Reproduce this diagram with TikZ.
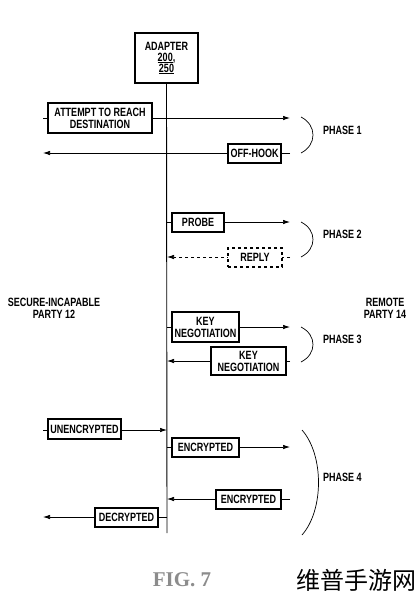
\documentclass[tikz,border=0pt]{standalone}
\usepackage{fontspec}
\newfontfamily\labfont[FakeStretch=0.75]{Liberation Sans}
\newfontfamily\figfont{Liberation Serif}
\newfontfamily\cjkfont{Noto Sans CJK SC}
\usetikzlibrary{arrows.meta,backgrounds}
\begin{document}
\begin{tikzpicture}[x=1pt,y=-1pt,
  txt/.style={font=\labfont\bfseries\fontsize{12}{12}\selectfont,align=center,inner sep=0pt},
  msgbox/.style 2 args={txt,draw,line width=1.4pt,fill=white,minimum width=#1pt,minimum height=#2pt},
  msg/.style={line width=0.7pt,-{Latex[length=7pt,width=4.5pt]}},
  brace/.style={line width=0.7pt}]
\useasboundingbox (0,0) rectangle (418,600);

% adapter and life line
\node[msgbox={63}{50}] (adapter) at (166.5,58) {ADAPTER\\[-1pt]\underline{200},\\[-1pt]\underline{250}};
\coordinate (bottom) at (167,533);
\draw[line width=0.9pt] (adapter.south) -- (bottom);

% boxes
\node[msgbox={104}{30}] (attempt) at (100,118) {ATTEMPT TO REACH\\DESTINATION};
\node[msgbox={53}{19}] (offhook) at (254.5,153.5) {OFF-HOOK};
\node[msgbox={52}{19}] (probe) at (198,222.5) {PROBE};
\node[msgbox={54}{19},dashed] (reply) at (255,257.5) {REPLY};
\node[msgbox={67}{30}] (key1) at (205.5,327) {KEY\\NEGOTIATION};
\node[msgbox={75}{28}] (key2) at (248.5,361) {KEY\\NEGOTIATION};
\node[msgbox={73}{20}] (unenc) at (84.5,429) {UNENCRYPTED};
\node[msgbox={67}{19}] (enc1) at (205.5,447.5) {ENCRYPTED};
\node[msgbox={65}{19}] (enc2) at (248.5,499.5) {ENCRYPTED};
\node[msgbox={63}{19}] (decr) at (126.5,517.5) {DECRYPTED};

% party labels
\node[txt] (left) at (54,308) {SECURE-INCAPABLE\\PARTY 12};
\node[txt] (right) at (385,308) {REMOTE\\PARTY 14};

% phase labels
\node[txt,anchor=west] (ph1) at (323,130) {PHASE 1};
\node[txt,anchor=west] (ph2) at (323,234) {PHASE 2};
\node[txt,anchor=west] (ph3) at (323,339) {PHASE 3};
\node[txt,anchor=west] (ph4) at (323,477) {PHASE 4};

% coordinates for connector ends
\coordinate (a0) at (43,118);   \coordinate (a1) at (290,118);
\coordinate (o0) at (290,153);  \coordinate (o1) at (43,153);
\coordinate (p0) at (167,222);  \coordinate (p1) at (290,222);
\coordinate (r0) at (290,257);  \coordinate (r1) at (167,257);
\coordinate (k0) at (167,327);  \coordinate (k1) at (290,327);
\coordinate (k2) at (290,361);  \coordinate (k3) at (167,361);
\coordinate (u0) at (43,430);   \coordinate (u1) at (167,430);
\coordinate (e0) at (167,447);  \coordinate (e1) at (290,447);
\coordinate (e2) at (290,499);  \coordinate (e3) at (167,499);
\coordinate (d0) at (167,517);  \coordinate (d1) at (43,517);

\begin{pgfonlayer}{background}
\draw[msg] (a0) -- (a1);
\draw[msg] (o0) -- (o1);
\draw[msg] (p0) -- (p1);
\draw[msg,dashed] (r0) -- (r1);
\draw[msg] (k0) -- (k1);
\draw[msg] (k2) -- (k3);
\draw[msg] (u0) -- (u1);
\draw[msg] (e0) -- (e1);
\draw[msg] (e2) -- (e3);
\draw[msg] (d0) -- (d1);
\end{pgfonlayer}

% phase brackets
\coordinate (b1a) at (301,117); \coordinate (b1b) at (301,153);
\coordinate (b2a) at (301,222); \coordinate (b2b) at (301,257);
\coordinate (b3a) at (301,327); \coordinate (b3b) at (301,362);
\coordinate (b4a) at (302,430); \coordinate (b4b) at (302,535);
\draw[brace] (b1a) .. controls (317,125) and (317,145) .. (b1b);
\draw[brace] (b2a) .. controls (317,230) and (317,249) .. (b2b);
\draw[brace] (b3a) .. controls (317,335) and (317,354) .. (b3b);
\draw[brace] (b4a) .. controls (324,455) and (324,510) .. (b4b);

% caption and watermark
\node[font=\figfont\bfseries\fontsize{21}{21}\selectfont,text=black!45,inner sep=0pt] (fig) at (182,580) {FIG. 7};
\node[font=\cjkfont\fontsize{24}{24}\selectfont,inner sep=0pt,anchor=east] (wm) at (417,580) {维普手游网};
\end{tikzpicture}
\end{document}
